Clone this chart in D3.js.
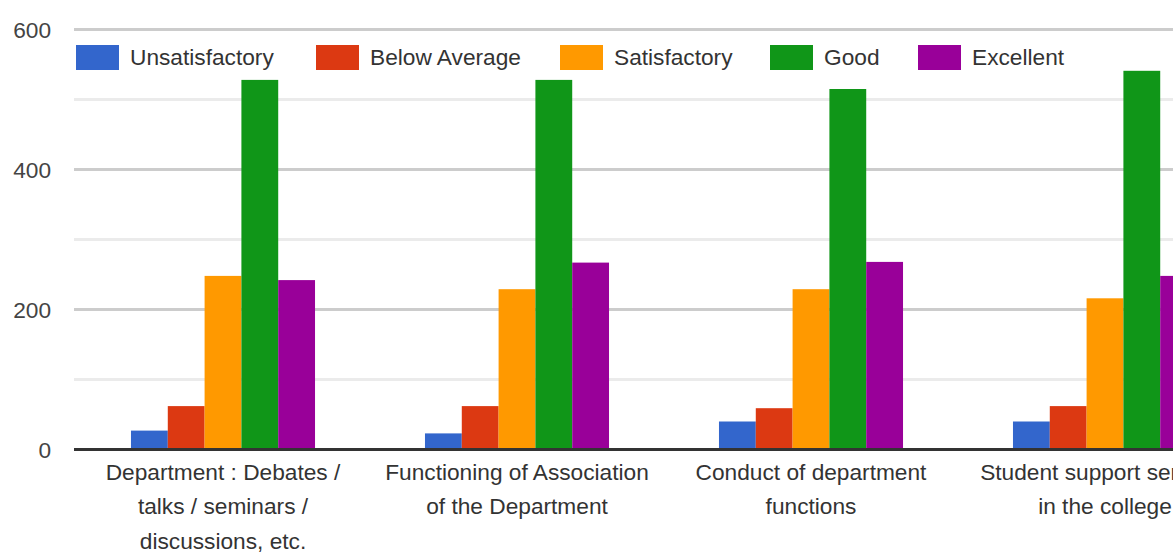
<!DOCTYPE html>
<html>
<head>
<meta charset="utf-8">
<script src="https://cdn.jsdelivr.net/npm/d3@7"></script>
<style>
  html, body { margin: 0; padding: 0; background: #fff; }
  svg { display: block; font-family: "Liberation Sans", Arial, sans-serif; }
</style>
</head>
<body>
<svg id="chart" width="1176" height="552"></svg>
<script>
const categories = [
  "Department : Debates /\ntalks / seminars /\ndiscussions, etc.",
  "Functioning of Association\nof the Department",
  "Conduct of department\nfunctions",
  "Student support services\nin the college"
];
const series = ["Unsatisfactory", "Below Average", "Satisfactory", "Good", "Excellent"];
const colors = ["#3366cc", "#dc3912", "#ff9900", "#109618", "#990099"];
const unsatisfactory = [27, 23, 40, 40];
const belowAverage   = [62, 62, 59, 62];
const satisfactory   = [248, 229, 229, 216];
const good           = [528, 528, 515, 541];
const excellent      = [242, 267, 268, 248];
const yTicks = [0, 200, 400, 600];
const yMinorTicks = [100, 300, 500];

const values = [unsatisfactory, belowAverage, satisfactory, good, excellent];
const data = categories.map((c, i) => ({ cat: c, vals: series.map((s, j) => ({ s, v: values[j][i], color: colors[j] })) }));

const svg = d3.select("#chart");
const plotLeft = 74, plotRight = 1173;
const fs = 22.7;

const y = d3.scaleLinear().domain([0, 600]).range([449.5, 29.5]);
const x = d3.scaleBand().domain(categories).range([76, 76 + 294 * 4]).padding(0);
const bw = x.bandwidth();
const gw = bw * 0.626;
const xs = d3.scaleBand().domain(series).range([(bw - gw) / 2, (bw + gw) / 2]).padding(0);

svg.append("defs").append("clipPath").attr("id", "clip")
  .append("rect").attr("x", 0).attr("y", 0).attr("width", plotRight).attr("height", 552);

const root = svg.append("g").attr("clip-path", "url(#clip)");

// minor gridlines
root.append("g").selectAll("line").data(yMinorTicks).join("line")
  .attr("x1", plotLeft).attr("x2", plotRight)
  .attr("y1", d => y(d)).attr("y2", d => y(d))
  .attr("stroke", "#ebebeb").attr("stroke-width", 3);

// major gridlines
root.append("g").selectAll("line").data(yTicks.filter(d => d !== 0)).join("line")
  .attr("x1", plotLeft).attr("x2", plotRight)
  .attr("y1", d => y(d)).attr("y2", d => y(d))
  .attr("stroke", "#cccccc").attr("stroke-width", 3);

// bars
const groups = root.append("g").selectAll("g").data(data).join("g")
  .attr("transform", d => `translate(${x(d.cat)},0)`);
groups.selectAll("rect").data(d => d.vals).join("rect")
  .attr("x", d => xs(d.s))
  .attr("width", xs.bandwidth())
  .attr("y", d => y(d.v))
  .attr("height", d => y(0) - y(d.v))
  .attr("fill", d => d.color);

// baseline
root.append("line")
  .attr("x1", plotLeft).attr("x2", plotRight)
  .attr("y1", y(0)).attr("y2", y(0))
  .attr("stroke", "#333333").attr("stroke-width", 3);

// y axis labels
const yAxis = d3.axisLeft(y).tickValues(yTicks).tickSize(0).tickPadding(0);
const yg = svg.append("g").attr("transform", "translate(51,0)").call(yAxis);
yg.select(".domain").remove();
yg.selectAll("text").attr("font-size", fs).attr("fill", "#444").attr("dy", "0.35em")
  .attr("font-family", "'Liberation Sans', Arial, sans-serif");

// x axis labels
const xAxis = d3.axisBottom(x).tickSize(0).tickFormat("");
const xg = root.append("g").attr("transform", `translate(0,${y(0)})`).call(xAxis);
xg.select(".domain").remove();
xg.selectAll(".tick").each(function(d) {
  const lines = d.split("\n");
  const t = d3.select(this).append("text")
    .attr("text-anchor", "middle")
    .attr("font-size", fs)
    .attr("fill", "#333")
    .attr("font-family", "'Liberation Sans', Arial, sans-serif");
  lines.forEach((ln, i) => {
    t.append("tspan").attr("x", 0).attr("y", 30 + i * 34.5).text(ln);
  });
});

// legend
const legendX = [76, 316, 560, 770, 918];
const lg = svg.append("g").selectAll("g").data(series).join("g")
  .attr("transform", (d, i) => `translate(${legendX[i]},45)`);
lg.append("rect").attr("width", 43).attr("height", 25).attr("fill", (d, i) => colors[i]);
lg.append("text").attr("x", 54).attr("y", 12.5).attr("dy", "0.35em")
  .attr("font-size", fs).attr("fill", "#333")
  .text(d => d);
</script>
</body>
</html>
